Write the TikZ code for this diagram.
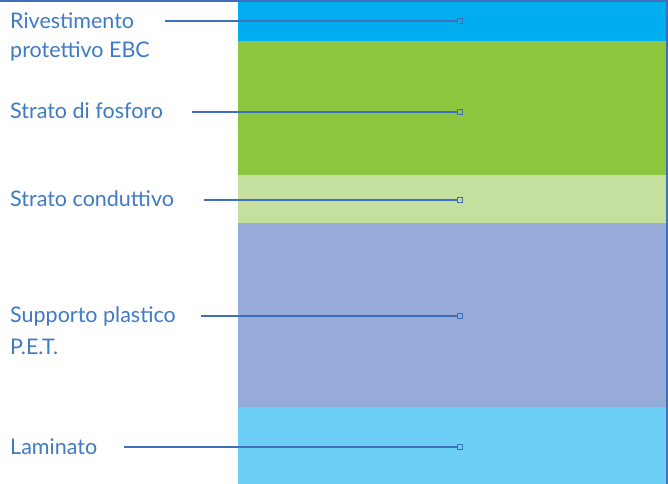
\documentclass[tikz,border=0pt]{standalone}
\usepackage{fontspec}
\setmainfont{Lato}
\definecolor{cTop}{HTML}{00AEEF}
\definecolor{cGreen}{HTML}{8DC63F}
\definecolor{cLight}{HTML}{C5E09E}
\definecolor{cLav}{HTML}{97ABD9}
\definecolor{cLam}{HTML}{6DCFF6}
\definecolor{cLine}{HTML}{3E6FB8}
\definecolor{cText}{HTML}{3F7AC4}
\begin{document}
\begin{tikzpicture}[x=1bp,y=-1bp,
  lbl/.style={anchor=west,inner sep=0pt,text=cText,font=\fontsize{21.5bp}{30bp}\selectfont},
  lead/.style={draw=cLine,line width=1.3bp},
  mark0/.style={draw=cLine,line width=1.2bp,minimum size=5.5bp,inner sep=0pt,rectangle}]
\useasboundingbox (0,0) rectangle (668,484);
\fill[white] (0,0) rectangle (668,484);
% layers
\fill[cTop] (238,0) rectangle (668,41);
\fill[cGreen] (238,41) rectangle (668,175);
\fill[cLight] (238,175) rectangle (668,223);
\fill[cLav] (238,223) rectangle (668,407);
\fill[cLam] (238,407) rectangle (668,484);
% border
\fill[cLine] (0,0) rectangle (668,2);
\fill[cLine] (666,0) rectangle (668,484);
% labels
\node[lbl] (t1) at (10,21) {Rivestimento};
\node[lbl] (t1b) at (10,51) {protettivo EBC};
\node[lbl] (t2) at (10,111) {Strato di fosforo};
\node[lbl] (t3) at (10,199) {Strato conduttivo};
\node[lbl] (t4) at (10,316) {Supporto plastico};
\node[lbl] (t4b) at (10,347) {P.E.T.};
\node[lbl] (t5) at (10,447) {Laminato};
% markers
\node[mark0] (m1) at (460,21) {};
\node[mark0] (m2) at (460,112) {};
\node[mark0] (m3) at (460,200) {};
\node[mark0] (m4) at (460,316) {};
\node[mark0] (m5) at (460,447) {};
% start points
\coordinate (s1) at (165,21);
\coordinate (s2) at (192,112);
\coordinate (s3) at (204,200);
\coordinate (s4) at (201,316);
\coordinate (s5) at (124,447);
\draw[lead] (s1) -- (m1);
\draw[lead] (s2) -- (m2);
\draw[lead] (s3) -- (m3);
\draw[lead] (s4) -- (m4);
\draw[lead] (s5) -- (m5);
\end{tikzpicture}
\end{document}
